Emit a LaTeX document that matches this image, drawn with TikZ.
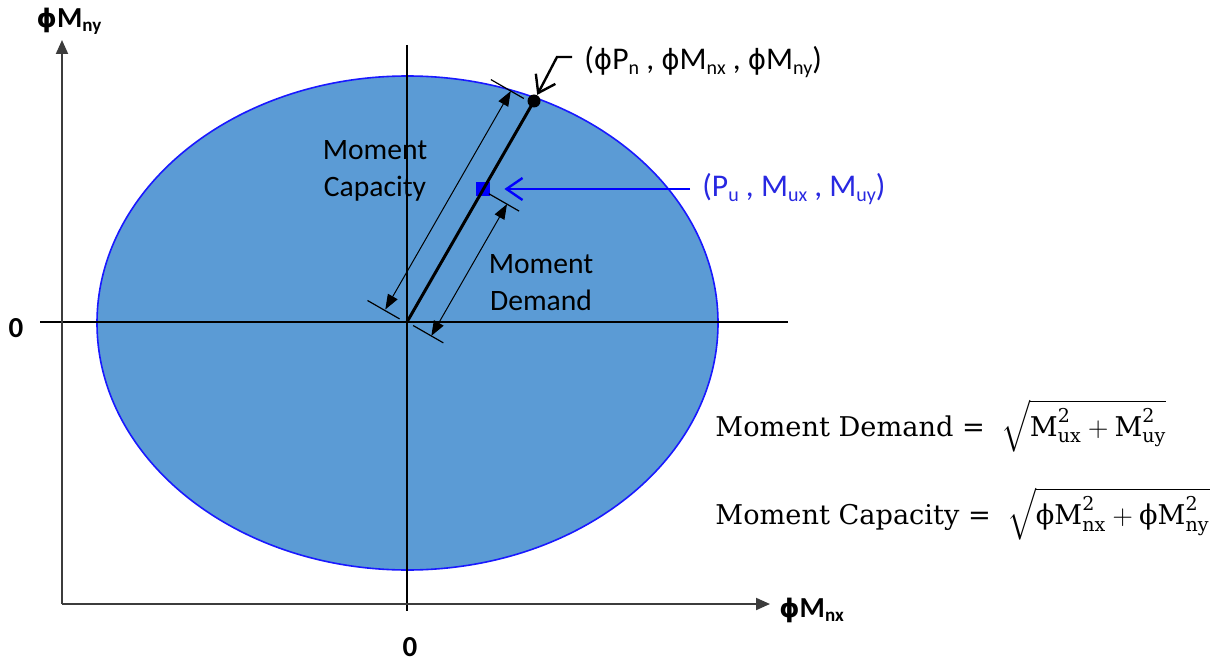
\documentclass[tikz,border=0pt]{standalone}
\usepackage{fix-cm}
\usepackage{amsmath}
\usepackage{fontspec}
\newfontfamily\lf{Carlito}
\newfontfamily\phf[Scale=0.88]{DejaVu Sans}
\newfontfamily\ff{DejaVu Serif}
\usetikzlibrary{arrows.meta,calc}
\definecolor{fillblue}{RGB}{91,155,213}
\definecolor{edgeblue}{RGB}{25,25,255}
\definecolor{axisgray}{RGB}{60,60,60}
\definecolor{lblblue}{RGB}{40,40,225}
\newcommand\subx[1]{\raisebox{-0.3ex}{\fontsize{10}{10}\selectfont #1}}
\newcommand\subb[1]{\raisebox{-0.3ex}{\fontsize{9.5}{10}\selectfont #1}}
\newcommand\ph{{\phf ϕ}}
\newcommand\fM{\text{\ff M}}
\newcommand\fs[1]{\text{\ff #1}}
\begin{document}
\begin{tikzpicture}[x=0.5pt,y=-0.5pt,
  lbl/.style={font=\lf\fontsize{14.8}{18.5}\selectfont, inner sep=0pt},
  clbl/.style={font=\lf\fontsize{15.8}{18.5}\selectfont, inner sep=0pt},
  axlbl/.style={font=\lf\bfseries\fontsize{14.5}{14.5}\selectfont, inner sep=0pt},
  dimarrow/.style={line width=0.5pt, {Triangle[length=7.5pt,width=5.5pt]}-{Triangle[length=7.5pt,width=5.5pt]}},
  ticks/.style={line width=0.6pt},
  cross/.style={line width=0.8pt},
  axis/.style={line width=1pt, draw=axisgray, -{Triangle[length=7pt,width=6pt]}},
  pointer/.style={line width=1.2pt, -{Straight Barb[length=8pt,width=11pt]}},
  formula/.style={anchor=west, inner sep=0pt, font=\ff\fontsize{13.6}{17}\selectfont},
]
\useasboundingbox (0,0) rectangle (1214,663);
% ellipse (interaction surface)
\draw[edgeblue, line width=0.8pt, fill=fillblue] (407.5,323) ellipse [x radius=310.5, y radius=247];
% cross lines
\coordinate (VT) at (407,45);
\coordinate (VB) at (407,611);
\coordinate (HL) at (40,322);
\coordinate (HR) at (788,322);
\draw[cross] (VT) -- (VB);
\draw[cross] (HL) -- (HR);
% axes
\coordinate (AO) at (62,604);
\coordinate (AY) at (62,40);
\coordinate (AX) at (770,604);
\draw[axis] (AO) -- (AY);
\draw[axis] (AO) -- (AX);
\node[axlbl] (ylbl) at (69,21) {\ph M\subb{ny}};
\node[axlbl, anchor=west] (xlbl) at (779,610) {\ph M\subb{nx}};
\node[axlbl] (zeroy) at (16,328) {0};
\node[axlbl] (zerox) at (410,647) {0};
% main line and points
\coordinate (O) at (407,322);
\node[circle, fill=black, inner sep=0pt, minimum size=6.5pt] (Pn) at (534,101) {};
\node[rectangle, fill=blue, inner sep=0pt, minimum size=7pt] (Pu) at (483,189) {};
\draw[line width=1.5pt] (O) -- (Pn.center);
% capacity dimension
\coordinate (c1) at (385.3,309.5);
\coordinate (c2) at (510.8,91);
\coordinate (ct1a) at (399.6,318.9);
\coordinate (ct1b) at (367.5,300.5);
\coordinate (ct2a) at (523.8,98.5);
\coordinate (ct2b) at (490.9,79.6);
\draw[ticks] (ct1a) -- (ct1b);
\draw[ticks] (ct2a) -- (ct2b);
\draw[dimarrow] (c1) -- (c2);
% demand dimension
\coordinate (d1) at (431.3,335.9);
\coordinate (d2) at (507,204.1);
\coordinate (dt1a) at (413.1,325.5);
\coordinate (dt1b) at (443.4,342.9);
\coordinate (dt2a) at (488.8,193.7);
\coordinate (dt2b) at (519.1,211.1);
\draw[ticks] (dt1a) -- (dt1b);
\draw[ticks] (dt2a) -- (dt2b);
\draw[dimarrow] (d1) -- (d2);
% labels
\node[lbl, align=center] (caplbl) at (375,171) {Moment\\Capacity};
\node[lbl, align=center] (demlbl) at (541,283) {Moment\\Demand};
\node[clbl, anchor=west] (pnlbl) at (584,62) {(\ph P\subx{n} , \ph M\subx{nx} , \ph M\subx{ny})};
\node[clbl, anchor=west, text=lblblue] (pulbl) at (702,189) {(P\subx{u} , M\subx{ux} , M\subx{uy})};
\coordinate (k1) at (572,57);
\coordinate (k2) at (557,57);
\draw[pointer] (k1) -- (k2) -- (Pn);
\coordinate (b1) at (690,189);
\draw[pointer, blue, shorten >=7pt] (b1) -- (Pu);
% formulas
\node[formula] (fdem) at (715,426) {Moment Demand = $\;\sqrt{\fM_{\fs{ux}}^{\fs{2}}+\fM_{\fs{uy}}^{\fs{2}}}$};
\node[formula] (fcap) at (715,514) {Moment Capacity = $\;\sqrt{\fs{ϕM}_{\fs{nx}}^{\fs{2}}+\fs{ϕM}_{\fs{ny}}^{\fs{2}}}$};
\end{tikzpicture}
\end{document}
